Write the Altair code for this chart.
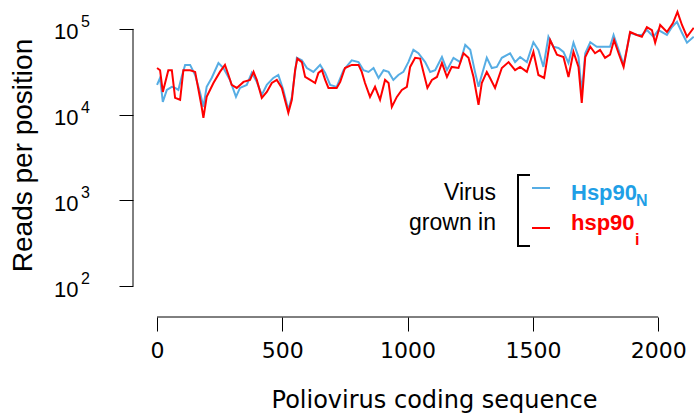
import altair as alt
import pandas as pd

# ---- data (codon position, reads per position) ----
hspN_pos = [0, 12, 23, 39, 59, 72, 85, 98, 112, 132, 152, 172, 185, 198, 218, 245, 265, 291,
            315, 331, 358, 378, 398, 418, 438, 464, 484, 504, 524, 538, 558, 578, 598, 624,
            651, 671, 691, 717, 744, 777, 804, 824, 844, 864, 884, 904, 924, 943, 963, 983,
            1003, 1023, 1043, 1070, 1090, 1110, 1137, 1157, 1183, 1210, 1230, 1250, 1269, 1283,
            1296, 1316, 1336, 1356, 1376, 1409, 1429, 1449, 1476, 1502, 1522, 1542, 1562, 1582,
            1602, 1622, 1642, 1662, 1682, 1695, 1709, 1729, 1755, 1788, 1808, 1822, 1842, 1862,
            1888, 1915, 1935, 1955, 1981, 2001, 2035, 2055, 2075, 2095, 2115, 2142]
hspN_reads = [22200, 26800, 14100, 19400, 21100, 20500, 19400, 27500, 38000, 38000, 29000, 17900,
              12300, 21100, 26800, 40000, 35000, 25400, 16100, 20500, 22200, 30700, 24100, 17000,
              22200, 26800, 29000, 19400, 11300, 16100, 46000, 43000, 35000, 31500, 38000, 30700,
              22200, 21100, 33000, 43000, 41000, 33000, 31500, 35000, 26800, 33000, 31500, 25400,
              29000, 31500, 41000, 57000, 52000, 41000, 31500, 33000, 47000, 33000, 46000, 41000,
              65000, 57000, 31500, 21100, 29000, 46000, 35000, 36000, 46000, 52000, 41000, 47000,
              41000, 70000, 57000, 36000, 81000, 62000, 60000, 54000, 40000, 69000, 47000, 17900,
              52000, 70000, 62000, 62000, 62000, 85000, 57000, 38000, 90000, 85000, 85000, 97000,
              81000, 97000, 85000, 105000, 121000, 90000, 69000, 81000]

hspI_pos = [0, 12, 23, 45, 59, 72, 92, 105, 132, 152, 178, 185, 198, 225, 251, 271, 285, 298,
            318, 345, 371, 385, 398, 418, 438, 458, 478, 498, 518, 524, 538, 551, 560, 578,
            591, 611, 631, 644, 658, 671, 684, 717, 731, 750, 777, 804, 817, 830, 850, 870,
            890, 910, 924, 937, 957, 977, 997, 1010, 1030, 1050, 1063, 1079, 1097, 1117, 1137,
            1157, 1176, 1203, 1223, 1243, 1263, 1283, 1296, 1316, 1329, 1349, 1376, 1403, 1429,
            1449, 1476, 1502, 1522, 1545, 1569, 1596, 1622, 1642, 1662, 1682, 1695, 1709, 1729,
            1748, 1768, 1788, 1808, 1824, 1842, 1862, 1888, 1915, 1935, 1955, 1975, 1988, 2008,
            2035, 2059, 2077, 2095, 2115, 2142]
hspI_reads = [35000, 33000, 18400, 33000, 33000, 15700, 14900, 33000, 33000, 31500, 12300, 9200,
              16100, 23400, 31500, 38000, 29000, 22200, 20500, 24100, 25400, 31500, 25400, 15700,
              18400, 23400, 25400, 20500, 12300, 10500, 14900, 33000, 45000, 41000, 27500, 25400,
              23400, 30700, 33000, 25400, 20500, 20500, 24100, 35000, 38000, 38000, 31500, 23400,
              16100, 21100, 14900, 25400, 23400, 12300, 16100, 19400, 21100, 36000, 46000, 45000,
              31500, 20500, 25400, 27500, 40000, 27500, 36000, 35000, 52000, 46000, 27500, 13000,
              23400, 31500, 26800, 20500, 35000, 41000, 33000, 36000, 31500, 54000, 29000, 26800,
              74000, 50000, 47000, 27500, 54000, 36000, 13700, 47000, 62000, 52000, 57000, 46000,
              50000, 74000, 52000, 36000, 92000, 85000, 81000, 105000, 97000, 69000, 111000,
              92000, 117000, 158000, 111000, 81000, 103000]

x_ticks = [0, 500, 1000, 1500, 2000]
y_ticks = [100, 1000, 10000, 100000]
y_exponents = ["2", "3", "4", "5"]
legend_title = ["Virus", "grown in"]
legend_names = ["Hsp90", "hsp90"]
legend_subs = ["N", "i"]

BLUE_LINE = "#56ADE4"
BLUE_TEXT = "#1F9FE6"
RED = "#FF0000"

W, H = 561, 317
x_dom = [-96, 2143]
y_dom = [10 ** 1.64, 10 ** 5.337]

dfN = pd.DataFrame({"pos": hspN_pos, "reads": hspN_reads})
dfI = pd.DataFrame({"pos": hspI_pos, "reads": hspI_reads})

xscale = alt.Scale(domain=x_dom, nice=False, zero=False)
yscale = alt.Scale(type="log", domain=y_dom, nice=False)

xaxis = alt.Axis(values=x_ticks, format="d", domain=False, grid=False, tickSize=14,
                 tickColor="black",
                 labelFont="DejaVu Sans", labelFontSize=22, labelColor="black", labelPadding=9,
                 labelFlush=False, labelOverlap=False,
                 title="Poliovirus coding sequence", titleFont="DejaVu Sans", titleFontSize=24,
                 titleFontWeight="normal", titleColor="black", titleX=301, titleY=90,
                 titleAlign="center", titleBaseline="alphabetic")
yaxis = alt.Axis(values=y_ticks, domain=False, grid=False, tickSize=14, tickColor="black",
                 labelExpr="'10'", labelFont="Liberation Sans", labelFontSize=22,
                 labelColor="black", labelPadding=41, labelOffset=3, labelFlush=False,
                 labelOverlap=False,
                 title="Reads per position", titleFont="Liberation Sans", titleFontSize=28,
                 titleFontWeight="normal", titleColor="black", titleAngle=-90, titleX=-102,
                 titleY=155, titleAlign="center", titleBaseline="alphabetic")

lineN = alt.Chart(dfN).mark_line(color=BLUE_LINE, strokeWidth=2, clip=True).encode(
    x=alt.X("pos:Q", scale=xscale, axis=xaxis),
    y=alt.Y("reads:Q", scale=yscale, axis=yaxis),
)
lineI = alt.Chart(dfI).mark_line(color=RED, strokeWidth=2, clip=True).encode(
    x=alt.X("pos:Q", scale=xscale),
    y=alt.Y("reads:Q", scale=yscale),
)

one = pd.DataFrame({"k": [0]})
yline = alt.Chart(one).mark_rule(color="black", strokeWidth=1).encode(
    x=alt.value(0), y=alt.datum(y_ticks[0]), y2=alt.datum(y_ticks[-1]))
xline = alt.Chart(one).mark_rule(color="black", strokeWidth=1).encode(
    x=alt.datum(x_ticks[0]), x2=alt.datum(x_ticks[-1]), y=alt.value(H))

exps = alt.Chart(pd.DataFrame({"v": y_ticks, "e": y_exponents})).mark_text(
    align="left", baseline="middle", font="Liberation Sans", fontSize=16, color="black",
    dy=-7).encode(x=alt.value(-52), y=alt.Y("v:Q", scale=yscale), text="e:N")

# legend (drawn inside the plot)
def txt(s, x, y, size=23, weight="normal", color="black", align="left"):
    return alt.Chart(pd.DataFrame({"t": [s]})).mark_text(
        align=align, baseline="alphabetic", font="Liberation Sans", fontSize=size,
        fontWeight=weight, color=color).encode(x=alt.value(x), y=alt.value(y), text="t:N")

def seg(x1, x2, y1, y2, color, width):
    return alt.Chart(one).mark_rule(color=color, strokeWidth=width).encode(
        x=alt.value(x1), x2=alt.value(x2), y=alt.value(y1), y2=alt.value(y2))

legend = [
    txt(legend_title[0], 363, 200, align="right"),
    txt(legend_title[1], 363, 230, align="right"),
    seg(385, 385, 175, 246, "black", 2),
    seg(384, 397, 175, 175, "black", 2),
    seg(384, 397, 246, 246, "black", 2),
    seg(399, 417, 188, 188, BLUE_LINE, 2),
    seg(399, 417, 228, 228, RED, 2),
    txt(legend_names[0], 438, 200, size=22, weight="bold", color=BLUE_TEXT),
    txt(legend_subs[0], 503, 206, size=16, weight="bold", color=BLUE_TEXT),
    txt(legend_names[1], 438, 230, size=22, weight="bold", color=RED),
    txt(legend_subs[1], 502, 245, size=16, weight="bold", color=RED),
]

chart = alt.layer(lineN, lineI, yline, xline, exps, *legend).properties(
    width=W, height=H, background="white",
    autosize=alt.AutoSizeParams(type="none"),
    padding={"left": 133, "top": 0, "right": 0, "bottom": 100},
).configure_view(stroke=None)

chart.save("out.html", embed_options={"renderer": "svg", "actions": False})
